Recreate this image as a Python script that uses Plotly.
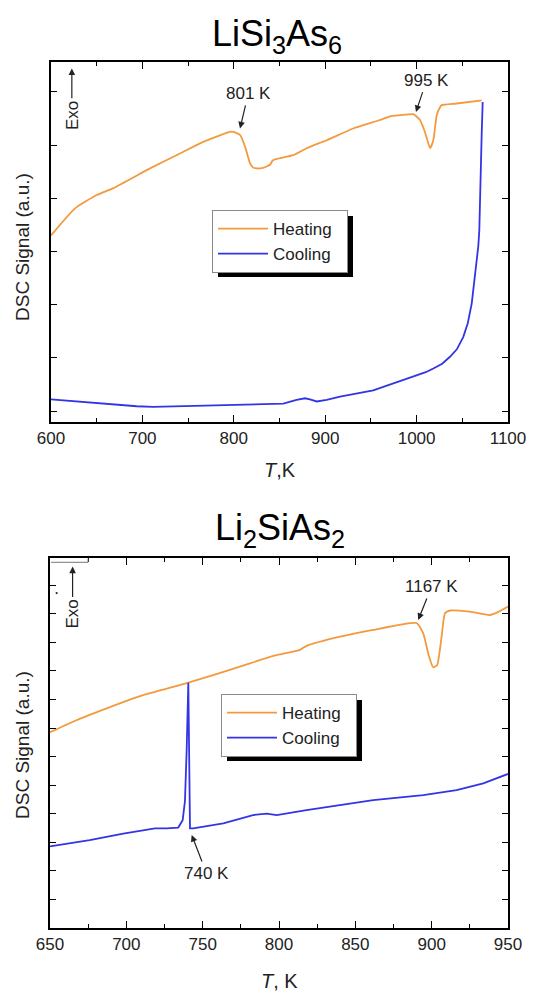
import plotly.graph_objects as go

# ---------------- data ----------------
# LiSi3As6
top_heat_T = [600, 626.3, 650, 668.2, 708.3, 741.1, 766.6, 797.7, 806.8, 812.3, 817.7, 820.9,
              825, 831.8, 839.6, 842.5, 846.9, 865.1, 879.8, 901.6, 930.7, 960, 970.9, 981.8,
              996.4, 1003.7, 1009.2, 1014.7, 1018.3, 1022, 1025.6, 1027.5, 1043.9, 1071.2]
top_heat_S = [3.30, 3.81, 4.06, 4.19, 4.56, 4.84, 5.06, 5.25, 5.19, 4.97, 4.66, 4.58,
              4.56, 4.57, 4.63, 4.71, 4.74, 4.81, 4.94, 5.09, 5.31, 5.47, 5.54, 5.56,
              5.58, 5.47, 5.24, 4.94, 5.09, 5.56, 5.71, 5.75, 5.78, 5.84]
top_cool_T = [600, 642.7, 693.8, 711.9, 752.1, 806.8, 854.2, 868.7, 877.9, 883.3, 890.7,
              901.6, 916.2, 952.6, 989.2, 1000, 1010, 1018.3, 1028, 1036.5, 1044, 1051, 1056,
              1060.3, 1063.0, 1065.8, 1067.5, 1068.6, 1069.4, 1070.2, 1071.2, 1072.3]
top_cool_S = [0.22, 0.16, 0.09, 0.08, 0.10, 0.13, 0.14, 0.21, 0.24, 0.22, 0.18,
              0.21, 0.27, 0.39, 0.61, 0.67, 0.73, 0.80, 0.89, 1.02, 1.16, 1.39, 1.65,
              2.02, 2.40, 2.77, 3.10, 3.39, 3.78, 4.50, 5.20, 5.81]

# Li2SiAs2
bot_heat_T = [650, 665, 676, 709, 740.6, 774.4, 796.2, 813.7, 818, 840, 861.7, 890,
              894.5, 897.7, 901, 903.6, 906.5, 908.7, 912, 925, 938, 944, 950]
bot_heat_S = [5.85, 6.22, 6.46, 7.12, 7.59, 8.15, 8.53, 8.74, 8.88, 9.2, 9.44, 9.68,
              9.32, 8.62, 8.13, 8.21, 9.2, 10.02, 10.12, 10.08, 9.96, 10.08, 10.26]
bot_cool_T = [650, 676, 698, 718.8, 726.4, 734.0, 736.9, 738.4, 739.5, 740.1, 740.6,
              741.7, 743.8, 763.5, 783, 792, 798.5, 818, 861.7, 894.5, 916.3, 933.8, 950]
bot_cool_S = [1.85, 2.07, 2.3, 2.48, 2.48, 2.51, 2.77, 3.44, 5.2, 6.99, 7.59,
              2.48, 2.48, 2.66, 2.95, 3.0, 2.95, 3.12, 3.47, 3.65, 3.82, 4.06, 4.39]

series_names = ["Heating", "Cooling"]
titles = ["LiSi<sub>3</sub>As<sub>6</sub>", "Li<sub>2</sub>SiAs<sub>2</sub>"]
x_titles = ["<i>T</i>,K", "<i>T</i>, K"]
y_title = "DSC Signal (a.u.)"

HEAT = "#F39A3E"
COOL = "#3434E6"
FONT = "Liberation Sans, Arial, sans-serif"
W, H = 533, 995
PAD = "\u00a0\u00a0"   # a little trailing room in the legend entries


def px(x):
    return x / W


def py(y):
    return 1 - y / H


fig = go.Figure()
fig.add_trace(go.Scatter(x=top_heat_T, y=top_heat_S, mode="lines", name=series_names[0] + PAD,
                         line=dict(color=HEAT, width=1.8, shape="spline", smoothing=0.5),
                         xaxis="x", yaxis="y", legend="legend"))
fig.add_trace(go.Scatter(x=top_cool_T, y=top_cool_S, mode="lines", name=series_names[1] + PAD,
                         line=dict(color=COOL, width=1.8), xaxis="x", yaxis="y", legend="legend"))
fig.add_trace(go.Scatter(x=bot_heat_T, y=bot_heat_S, mode="lines", name=series_names[0] + PAD,
                         line=dict(color=HEAT, width=1.8, shape="spline", smoothing=0.5),
                         xaxis="x2", yaxis="y2", legend="legend2"))
fig.add_trace(go.Scatter(x=bot_cool_T, y=bot_cool_S, mode="lines", name=series_names[1] + PAD,
                         line=dict(color=COOL, width=1.8), xaxis="x2", yaxis="y2", legend="legend2"))

axis_common = dict(showline=True, linecolor="black", linewidth=1.5, mirror="ticks",
                   ticks="inside", showgrid=False, zeroline=False, tickcolor="black",
                   automargin=False,
                   tickfont=dict(size=17, color="#222", family=FONT))

legend_common = dict(xanchor="left", yanchor="top", bgcolor="white", bordercolor="#8a8a8a",
                     borderwidth=1, font=dict(size=17, color="#222"), tracegroupgap=0,
                     itemwidth=50)

fig.update_layout(
    width=W, height=H, margin=dict(l=0, r=0, t=0, b=0, autoexpand=False),
    paper_bgcolor="white", plot_bgcolor="white",
    font=dict(family=FONT, color="black"),
    xaxis=dict(domain=[px(51), px(508)], anchor="y", range=[600, 1100], tick0=0, dtick=100,
               ticklen=7, tickwidth=1.3,
               minor=dict(dtick=50, ticks="inside", ticklen=4, tickcolor="black", tickwidth=1.3),
               **axis_common),
    yaxis=dict(domain=[py(421.7), py(62)], anchor="x", range=[-0.2, 6.56], tick0=0, dtick=1,
               ticklen=6, tickwidth=1.3, showticklabels=False, **axis_common),
    xaxis2=dict(domain=[px(50), px(508)], anchor="y2", range=[650, 950], tick0=0, dtick=50,
                ticklen=7, tickwidth=1.3,
                minor=dict(dtick=25, ticks="inside", ticklen=4, tickcolor="black", tickwidth=1.3),
                **axis_common),
    yaxis2=dict(domain=[py(927.7), py(558.3)], anchor="x2", range=[-1.0, 11.95], tick0=0, dtick=1,
                ticklen=6, tickwidth=1.3, showticklabels=False, **axis_common),
    legend=dict(x=px(212), y=py(210), **legend_common),
    legend2=dict(x=px(221), y=py(694), **legend_common),
    showlegend=True,
)

shapes = []
# legend drop shadows (offset ~6 px right/down of the legend boxes)
for (x0, y0, x1, y1) in [(218, 216, 353, 277), (227, 700, 362, 761)]:
    shapes.append(dict(type="rect", xref="paper", yref="paper", x0=px(x0), x1=px(x1),
                       y0=py(y1), y1=py(y0), fillcolor="black", line=dict(width=0)))
# small stray marks in the lower panel
shapes.append(dict(type="line", xref="paper", yref="paper", x0=px(51), x1=px(88),
                   y0=py(562.3), y1=py(562.3), line=dict(color="#777", width=1)))
shapes.append(dict(type="line", xref="paper", yref="paper", x0=px(88), x1=px(88),
                   y0=py(562.3), y1=py(558.5), line=dict(color="#777", width=1)))
shapes.append(dict(type="circle", xref="paper", yref="paper", x0=px(55.5), x1=px(57.8),
                   y0=py(594.2), y1=py(591.9), fillcolor="#333", line=dict(width=0)))
fig.update_layout(shapes=shapes)

ann = []
# titles
ann.append(dict(text=titles[0], x=px(277), y=py(36), xref="paper", yref="paper",
                showarrow=False, font=dict(size=36, color="black"), xanchor="center", yanchor="middle"))
ann.append(dict(text=titles[1], x=px(279.5), y=py(530), xref="paper", yref="paper",
                showarrow=False, font=dict(size=36, color="black"), xanchor="center", yanchor="middle"))
# axis titles
ann.append(dict(text=x_titles[0], x=px(279.5), y=py(470), xref="paper", yref="paper",
                showarrow=False, font=dict(size=20, color="#222"), xanchor="center", yanchor="middle"))
ann.append(dict(text=x_titles[1], x=px(279.5), y=py(981), xref="paper", yref="paper",
                showarrow=False, font=dict(size=20, color="#222"), xanchor="center", yanchor="middle"))
ann.append(dict(text=y_title, x=px(22), y=py(247), xref="paper", yref="paper", textangle=-90,
                showarrow=False, font=dict(size=19, color="#222"), xanchor="center", yanchor="middle"))
ann.append(dict(text=y_title, x=px(22), y=py(745), xref="paper", yref="paper", textangle=-90,
                showarrow=False, font=dict(size=19, color="#222"), xanchor="center", yanchor="middle"))

# labelled arrows: (axis x, axis y, text, text centre T, text centre S, head T, head S, angle)
arrows = [("x", "y", "Exo", 622.8, 5.56, 622.8, 6.44, -90),
          ("x2", "y2", "Exo", 664.8, 10.0, 664.8, 11.66, -90),
          ("x", "y", "801 K", 815.9, 5.97, 806.8, 5.31, 0),
          ("x", "y", "995 K", 1011, 6.22, 999.3, 5.62, 0),
          ("x2", "y2", "1167 K", 900, 10.96, 891.2, 9.79, 0),
          ("x2", "y2", "740 K", 752.6, 0.9, 742.8, 2.25, 0)]
for (xr, yr, t, tx, ty, hx, hy, ang) in arrows:
    ann.append(dict(text=t, x=hx, y=hy, ax=tx, ay=ty, xref=xr, yref=yr, axref=xr, ayref=yr,
                    textangle=ang, showarrow=True, arrowhead=2, arrowsize=1.1, arrowwidth=1.2,
                    arrowcolor="#222", standoff=0, borderpad=2,
                    font=dict(size=17, color="#222")))

fig.update_layout(annotations=ann)
fig.write_html("out.html")
